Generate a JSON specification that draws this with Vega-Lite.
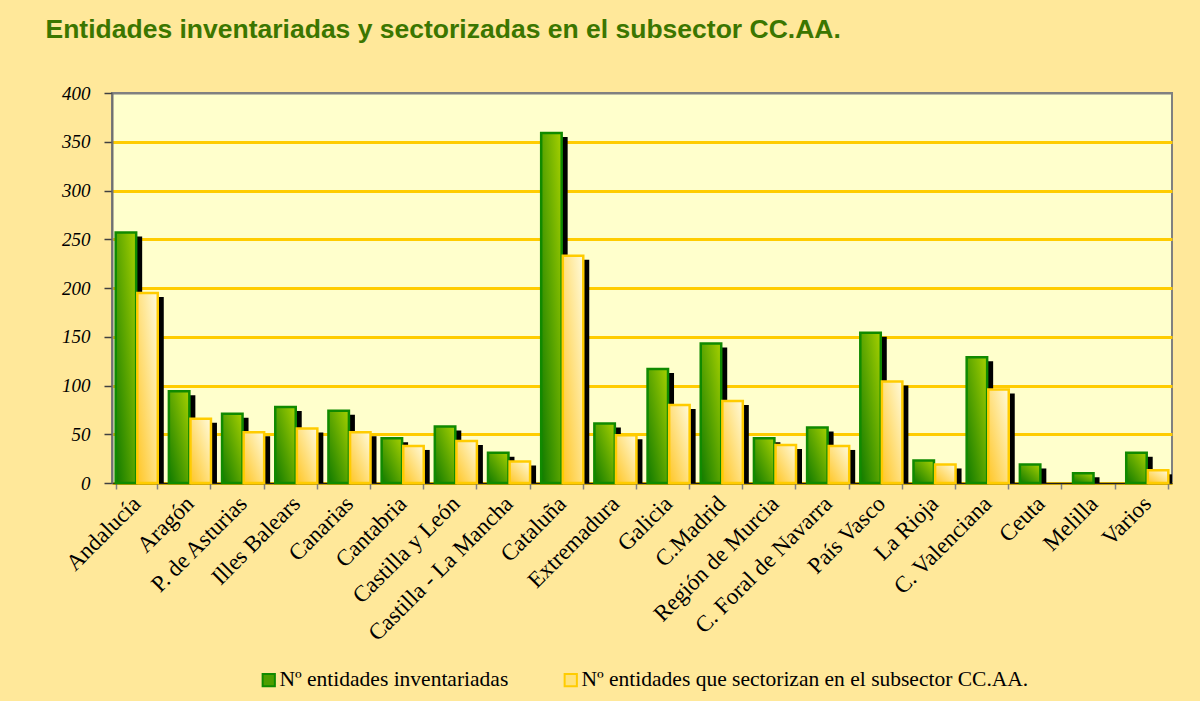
{
  "$schema": "https://vega.github.io/schema/vega-lite/v6.json",
  "width": 1060,
  "height": 390,
  "autosize": "none",
  "padding": {"left": 112, "top": 93, "right": 28, "bottom": 218},
  "background": "#FFE89A",
  "config": {
    "view": {"fill": "#FFFFCC", "stroke": "#808080", "strokeWidth": 2}
  },
  "data": {
    "values": [
      {"region": "Andalucía", "serie": "Nº entidades inventariadas", "valor": 257},
      {"region": "Andalucía", "serie": "Nº entidades que sectorizan en el subsector CC.AA.", "valor": 195},
      {"region": "Aragón", "serie": "Nº entidades inventariadas", "valor": 94},
      {"region": "Aragón", "serie": "Nº entidades que sectorizan en el subsector CC.AA.", "valor": 66},
      {"region": "P. de Asturias", "serie": "Nº entidades inventariadas", "valor": 71},
      {"region": "P. de Asturias", "serie": "Nº entidades que sectorizan en el subsector CC.AA.", "valor": 52},
      {"region": "Illes Balears", "serie": "Nº entidades inventariadas", "valor": 78},
      {"region": "Illes Balears", "serie": "Nº entidades que sectorizan en el subsector CC.AA.", "valor": 56},
      {"region": "Canarias", "serie": "Nº entidades inventariadas", "valor": 74},
      {"region": "Canarias", "serie": "Nº entidades que sectorizan en el subsector CC.AA.", "valor": 52},
      {"region": "Cantabria", "serie": "Nº entidades inventariadas", "valor": 46},
      {"region": "Cantabria", "serie": "Nº entidades que sectorizan en el subsector CC.AA.", "valor": 38},
      {"region": "Castilla y León", "serie": "Nº entidades inventariadas", "valor": 58},
      {"region": "Castilla y León", "serie": "Nº entidades que sectorizan en el subsector CC.AA.", "valor": 43},
      {"region": "Castilla - La Mancha", "serie": "Nº entidades inventariadas", "valor": 31},
      {"region": "Castilla - La Mancha", "serie": "Nº entidades que sectorizan en el subsector CC.AA.", "valor": 22},
      {"region": "Cataluña", "serie": "Nº entidades inventariadas", "valor": 359},
      {"region": "Cataluña", "serie": "Nº entidades que sectorizan en el subsector CC.AA.", "valor": 233},
      {"region": "Extremadura", "serie": "Nº entidades inventariadas", "valor": 61},
      {"region": "Extremadura", "serie": "Nº entidades que sectorizan en el subsector CC.AA.", "valor": 49},
      {"region": "Galicia", "serie": "Nº entidades inventariadas", "valor": 117},
      {"region": "Galicia", "serie": "Nº entidades que sectorizan en el subsector CC.AA.", "valor": 80},
      {"region": "C.Madrid", "serie": "Nº entidades inventariadas", "valor": 143},
      {"region": "C.Madrid", "serie": "Nº entidades que sectorizan en el subsector CC.AA.", "valor": 84},
      {"region": "Región de Murcia", "serie": "Nº entidades inventariadas", "valor": 46},
      {"region": "Región de Murcia", "serie": "Nº entidades que sectorizan en el subsector CC.AA.", "valor": 39},
      {"region": "C. Foral de Navarra", "serie": "Nº entidades inventariadas", "valor": 57},
      {"region": "C. Foral de Navarra", "serie": "Nº entidades que sectorizan en el subsector CC.AA.", "valor": 38},
      {"region": "País Vasco", "serie": "Nº entidades inventariadas", "valor": 154},
      {"region": "País Vasco", "serie": "Nº entidades que sectorizan en el subsector CC.AA.", "valor": 104},
      {"region": "La Rioja", "serie": "Nº entidades inventariadas", "valor": 23},
      {"region": "La Rioja", "serie": "Nº entidades que sectorizan en el subsector CC.AA.", "valor": 19},
      {"region": "C. Valenciana", "serie": "Nº entidades inventariadas", "valor": 129},
      {"region": "C. Valenciana", "serie": "Nº entidades que sectorizan en el subsector CC.AA.", "valor": 96},
      {"region": "Ceuta", "serie": "Nº entidades inventariadas", "valor": 19},
      {"region": "Ceuta", "serie": "Nº entidades que sectorizan en el subsector CC.AA.", "valor": 0},
      {"region": "Melilla", "serie": "Nº entidades inventariadas", "valor": 10},
      {"region": "Melilla", "serie": "Nº entidades que sectorizan en el subsector CC.AA.", "valor": 0},
      {"region": "Varios", "serie": "Nº entidades inventariadas", "valor": 31},
      {"region": "Varios", "serie": "Nº entidades que sectorizan en el subsector CC.AA.", "valor": 13}
    ]
  },
  "encoding": {
    "x": {
      "field": "region",
      "type": "nominal",
      "sort": null,
      "scale": {"paddingInner": 0.23, "paddingOuter": 0.08},
      "axis": {
        "title": null,
        "labelAngle": -45,
        "labelFont": "Liberation Serif",
        "labelFontSize": 23,
        "labelColor": "#000000",
        "labelPadding": 3,
        "labelOffset": -8,
        "labelLimit": 300,
        "tickBand": "extent",
        "tickColor": "#808080",
        "tickWidth": 1.5,
        "tickSize": 6,
        "domainColor": "#202020",
        "domainWidth": 1.5,
        "grid": false
      }
    },
    "y": {
      "field": "valor",
      "type": "quantitative",
      "scale": {"domain": [0, 400], "nice": false},
      "axis": {
        "title": "Entidades inventariadas y sectorizadas en el subsector CC.AA.",
        "titleAngle": 0,
        "titleX": -67,
        "titleY": -56,
        "titleAlign": "left",
        "titleBaseline": "alphabetic",
        "titleFont": "Liberation Sans",
        "titleFontSize": 26.5,
        "titleFontWeight": "bold",
        "titleColor": "#3B7600",
        "titleLimit": 1100,
        "values": [0, 50, 100, 150, 200, 250, 300, 350, 400],
        "labelFont": "Liberation Serif",
        "labelFontStyle": "italic",
        "labelFontSize": 19,
        "labelColor": "#000000",
        "labelPadding": 14,
        "tickColor": "#404040",
        "tickSize": 8,
        "tickWidth": 1.5,
        "domainColor": "#707070",
        "domainWidth": 2,
        "gridColor": {"condition": {"test": "datum.value === 400", "value": "#808080"}, "value": "#FFCC00"},
        "gridWidth": {"condition": {"test": "datum.value === 400", "value": 2}, "value": 3},
        "gridOpacity": 1
      }
    }
  },
  "layer": [
    {
      "transform": [{"filter": "datum.serie === 'Nº entidades inventariadas' && datum.valor > 0"}],
      "mark": {"type": "bar", "color": "#000000", "width": {"band": 0.5}, "xOffset": -4.8, "yOffset": 4, "clip": true}
    },
    {
      "transform": [{"filter": "datum.serie !== 'Nº entidades inventariadas' && datum.valor > 0"}],
      "mark": {"type": "bar", "color": "#000000", "width": {"band": 0.5}, "xOffset": 16.8, "yOffset": 4, "clip": true}
    },
    {
      "transform": [{"filter": "datum.valor > 0"}],
      "mark": {"type": "bar", "strokeWidth": 2.5, "width": {"band": 0.5}, "xOffset": -10.8, "opacity": 0},
      "encoding": {
        "color": {
          "field": "serie",
          "type": "nominal",
          "sort": null,
          "scale": {"range": ["#4E9E00", "#FFE27A"]},
          "legend": {
            "title": null,
            "orient": "none",
            "direction": "horizontal",
            "legendX": 146,
            "legendY": 576,
            "symbolType": "square",
            "symbolSize": 150,
            "symbolStrokeWidth": 2,
            "symbolOpacity": 1,
            "labelFont": "Liberation Serif",
            "labelFontSize": 21.5,
            "labelColor": "#000000",
            "labelOffset": 0,
            "labelLimit": 500,
            "columnPadding": 51
          }
        },
        "stroke": {
          "field": "serie",
          "type": "nominal",
          "sort": null,
          "scale": {"range": ["#108A00", "#FFCC00"]},
          "legend": null
        }
      }
    },
    {
      "transform": [{"filter": "datum.serie === 'Nº entidades inventariadas' && datum.valor > 0"}],
      "mark": {
        "type": "bar",
        "width": {"band": 0.5},
        "xOffset": -10.8,
        "strokeWidth": 2.5,
        "stroke": "#108A00",
        "fill": {"gradient": "linear", "x1": 0, "y1": 1, "x2": 1, "y2": 0, "stops": [{"offset": 0, "color": "#0F7A00"}, {"offset": 1, "color": "#A6D000"}]}
      }
    },
    {
      "transform": [{"filter": "datum.serie !== 'Nº entidades inventariadas' && datum.valor > 0"}],
      "mark": {
        "type": "bar",
        "width": {"band": 0.5},
        "xOffset": 10.8,
        "strokeWidth": 2.5,
        "stroke": "#FFCC00",
        "fill": {"gradient": "linear", "x1": 0, "y1": 1, "x2": 1, "y2": 0, "stops": [{"offset": 0, "color": "#FFC626"}, {"offset": 1, "color": "#FFFBDC"}]}
      }
    }
  ]
}
